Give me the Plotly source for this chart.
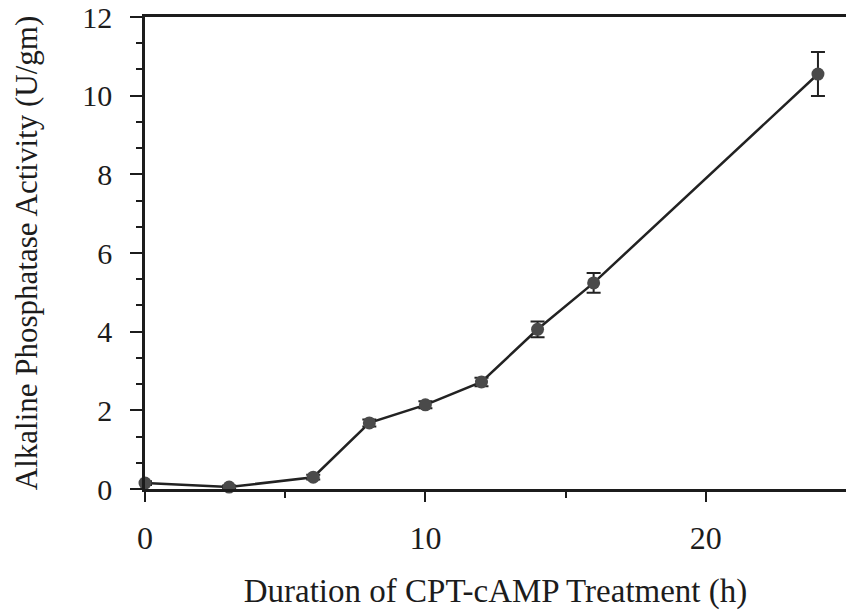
import plotly.graph_objects as go

hours = [0, 3, 6, 8, 10, 12, 14, 16, 24]
activity = [0.15, 0.05, 0.3, 1.68, 2.14, 2.72, 4.06, 5.24, 10.55]
err = [0.05, 0.04, 0.06, 0.09, 0.09, 0.11, 0.2, 0.25, 0.56]
x_ticks = [0, 10, 20]
y_ticks = [0, 2, 4, 6, 8, 10, 12]

font_family = "Liberation Serif, Times New Roman, serif"
ink = "#1c1c1c"

fig = go.Figure()
fig.add_trace(go.Scatter(
    x=hours, y=activity,
    mode="lines+markers",
    line=dict(color="#222222", width=2.5),
    marker=dict(size=13, color="#4a4a4a", line=dict(width=0)),
    error_y=dict(type="data", array=err, visible=True, color="#222222",
                 thickness=2, width=7),
    showlegend=False,
    cliponaxis=False,
))

fig.update_layout(
    width=846, height=614,
    margin=dict(l=145, r=0, t=17, b=125),
    paper_bgcolor="white", plot_bgcolor="white",
    font=dict(family=font_family, color=ink, size=30),
    xaxis=dict(
        range=[0, 25], tickvals=x_ticks, showgrid=False, zeroline=False,
        showline=True, linecolor=ink, linewidth=2.5, mirror=True,
        ticks="outside", ticklen=10, tickwidth=2, tickcolor=ink,
        minor=dict(tickvals=[5, 15], ticks="outside", ticklen=6, tickwidth=2, tickcolor=ink),
        tickfont=dict(size=32, family=font_family, color=ink),
        ticklabelstandoff=9,
        title=dict(text="Duration of CPT-cAMP Treatment (h)", standoff=24,
                   font=dict(size=33, family=font_family, color=ink)),
    ),
    yaxis=dict(
        range=[0, 12], tickvals=y_ticks, showgrid=False, zeroline=False,
        showline=True, linecolor=ink, linewidth=2.5, mirror=False,
        ticks="outside", ticklen=12, tickwidth=2, tickcolor=ink,
        minor=dict(dtick=2/3, tick0=0, ticks="outside", ticklen=6, tickwidth=2, tickcolor=ink),
        tickfont=dict(size=30, family=font_family, color=ink),
        ticklabelstandoff=12,
        title=dict(text="Alkaline Phosphatase Activity (U/gm)", standoff=36,
                   font=dict(size=31, family=font_family, color=ink)),
    ),
)

fig.write_html(
    "out.html",
    config={"displayModeBar": False},
    post_script="document.body.style.margin='0';document.body.style.overflow='hidden';",
)
